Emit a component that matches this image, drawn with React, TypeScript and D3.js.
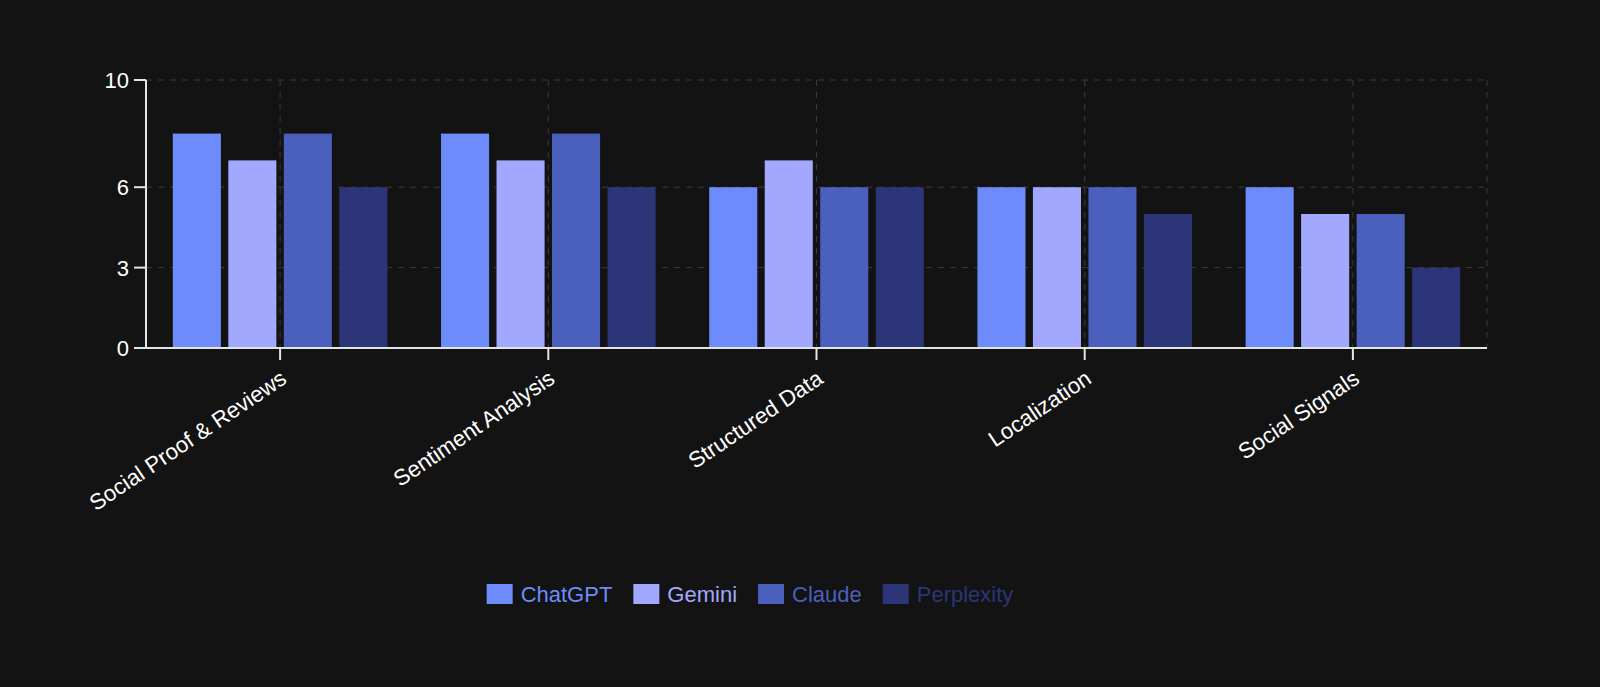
import React, { useRef, useEffect } from "react";
import * as d3 from "d3";

const categories = [
    "Social Proof & Reviews",
    "Sentiment Analysis",
    "Structured Data",
    "Localization",
    "Social Signals",
];

const seriesNames = ["ChatGPT", "Gemini", "Claude", "Perplexity"];
const seriesColors = ["#6d8bfa", "#a1a8fe", "#4b5fbd", "#2b3577"];

const chatgpt = [8, 8, 6, 6, 6];
const gemini = [7, 7, 7, 6, 5];
const claude = [8, 8, 6, 6, 5];
const perplexity = [6, 6, 6, 5, 3];

const yTicks = [0, 3, 6, 10];

const values = [chatgpt, gemini, claude, perplexity];

const W = 1600;
const H = 687;
const FONT = "'Liberation Sans', Arial, Helvetica, sans-serif";

const BarChart = () => {
    const ref = useRef<SVGSVGElement | null>(null);

    useEffect(() => {
        document.body.style.margin = "0";
        document.body.style.background = "#131313";

        const left = 146;
        const right = 1487;
        const top = 80;
        const bottom = 348;

        const svg = d3.select(ref.current);
        svg.selectAll("*").remove();

        svg.append("rect").attr("width", W).attr("height", H).attr("fill", "#131313");

        const x0 = d3.scaleBand<string>().domain(categories).range([left, right]).padding(0);
        const bw = x0.bandwidth();
        const x1 = d3
            .scaleBand<string>()
            .domain(seriesNames)
            .range([bw * 0.1, bw * 0.9])
            .paddingInner(0.134)
            .paddingOuter(0);
        const y = d3.scaleLinear().domain([0, 10]).range([bottom, top]);

        // grid
        const grid = svg.append("g").attr("stroke", "#3a3a3a").attr("stroke-dasharray", "6 6").attr("stroke-width", 1);
        yTicks.filter((t) => t !== 0).forEach((t) => {
            grid.append("line").attr("x1", left).attr("x2", right).attr("y1", y(t)).attr("y2", y(t));
        });
        categories.forEach((c) => {
            const cx = (x0(c) as number) + bw / 2;
            grid.append("line").attr("x1", cx).attr("x2", cx).attr("y1", top).attr("y2", bottom);
        });
        grid.append("line").attr("x1", right).attr("x2", right).attr("y1", top).attr("y2", bottom);

        // bars
        categories.forEach((c, ci) => {
            const g = svg.append("g").attr("transform", `translate(${x0(c)},0)`);
            seriesNames.forEach((s, si) => {
                const v = values[si][ci];
                g.append("rect")
                    .attr("x", x1(s) as number)
                    .attr("y", y(v))
                    .attr("width", x1.bandwidth())
                    .attr("height", y(0) - y(v))
                    .attr("fill", seriesColors[si]);
            });
        });

        const axisColor = "#e4e4e4";

        // y axis
        const ya = svg.append("g");
        ya.append("line").attr("x1", left).attr("x2", left).attr("y1", top).attr("y2", bottom)
            .attr("stroke", axisColor).attr("stroke-width", 2);
        yTicks.forEach((t) => {
            ya.append("line").attr("x1", left - 12).attr("x2", left).attr("y1", y(t)).attr("y2", y(t))
                .attr("stroke", axisColor).attr("stroke-width", 2);
            ya.append("text")
                .attr("x", left - 17)
                .attr("y", y(t))
                .attr("dy", "0.36em")
                .attr("text-anchor", "end")
                .attr("fill", "#ffffff")
                .attr("font-family", FONT)
                .attr("font-size", 22)
                .text(t);
        });

        // x axis
        const xa = svg.append("g");
        xa.append("line").attr("x1", left).attr("x2", right).attr("y1", bottom).attr("y2", bottom)
            .attr("stroke", axisColor).attr("stroke-width", 2);
        categories.forEach((c) => {
            const cx = (x0(c) as number) + bw / 2;
            xa.append("line").attr("x1", cx).attr("x2", cx).attr("y1", bottom).attr("y2", bottom + 12)
                .attr("stroke", axisColor).attr("stroke-width", 2);
            xa.append("text")
                .attr("transform", `translate(${cx + 8},${bottom + 34}) rotate(-34)`)
                .attr("text-anchor", "end")
                .attr("fill", "#ffffff")
                .attr("font-family", FONT)
                .attr("font-size", 22.3)
                .text(c);
        });

        // legend
        const legendCenter = 750;
        const sq = { w: 26, h: 20 };
        const lg = svg.append("g");
        const items = seriesNames.map((s, i) => {
            const item = lg.append("g");
            item.append("rect").attr("width", sq.w).attr("height", sq.h).attr("y", -sq.h / 2).attr("fill", seriesColors[i]);
            const t = item.append("text")
                .attr("x", sq.w + 8)
                .attr("dy", "0.36em")
                .attr("fill", seriesColors[i])
                .attr("font-family", FONT)
                .attr("font-size", 22)
                .text(s);
            const tw = (t.node() as SVGTextElement).getComputedTextLength();
            return { item, width: sq.w + 8 + tw };
        });
        const gap = 21;
        const total = d3.sum(items, (d) => d.width) + gap * (items.length - 1);
        let cursor = legendCenter - total / 2;
        items.forEach((d) => {
            d.item.attr("transform", `translate(${cursor},594)`);
            cursor += d.width + gap;
        });
    }, []);

    return <svg ref={ref} width={W} height={H} viewBox={`0 0 ${W} ${H}`} style={{ display: "block" }} />;
};

export default function App() {
    return <BarChart />;
}
